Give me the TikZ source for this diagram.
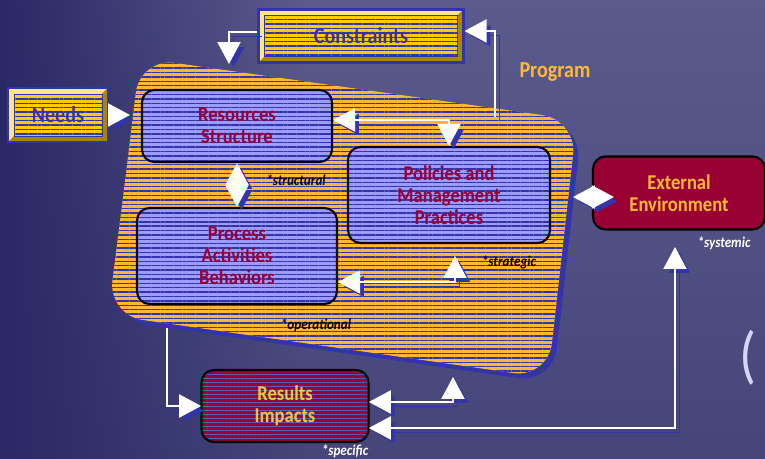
\documentclass[tikz,border=0pt]{standalone}
\usepackage{fontspec}
\setmainfont{Carlito}[FakeStretch=0.88]
\usetikzlibrary{arrows.meta,calc,positioning,patterns.meta,fadings}

\definecolor{bgtop}{HTML}{5A5A8C}
\definecolor{bgbot}{HTML}{45457A}
\definecolor{bgleft}{HTML}{2A2866}
\definecolor{stripeblue}{HTML}{3333AA}
\definecolor{progorange}{HTML}{FFB833}
\definecolor{lavender}{HTML}{9C9CFF}
\definecolor{crimson}{HTML}{990033}
\definecolor{gold}{HTML}{FFCC00}
\definecolor{goldlight}{HTML}{FFE680}
\definecolor{golddark}{HTML}{A88400}
\definecolor{resyellow}{HTML}{FFCC33}
\definecolor{parenlav}{HTML}{D4D4FF}

\tikzfading[name=fadeleft, left color=transparent!0, right color=transparent!100]

\begin{document}
\begin{tikzpicture}[x=0.02cm, y=-0.02cm,
    stripes/.style={pattern={Lines[angle=0,distance=2.5pt,line width=0.8pt]},
      pattern color=stripeblue},
    pbox/.style={draw=black, line width=1.2pt, rounded corners=0.25cm,
      preaction={fill=lavender}, stripes, text=crimson, align=center,
      font=\bfseries\fontsize{12}{12.5}\selectfont, inner sep=0pt},
    ebox/.style={draw=black, line width=1.2pt, rounded corners=0.25cm,
      fill=crimson, text=progorange, align=center,
      font=\bfseries\fontsize{12}{12.5}\selectfont, inner sep=0pt},
    rbox/.style={ebox, preaction={fill=crimson},
      pattern={Lines[angle=0,distance=2.3pt,line width=0.4pt]},
      pattern color=stripeblue!80!white, text=resyellow},
    ybox/.style={draw=stripeblue, line width=1.2pt, fill=gold, text=stripeblue,
      font=\bfseries\fontsize{13}{13}\selectfont, inner sep=0pt,
      path picture={
        \def\pb{path picture bounding box}
        \fill[goldlight] (\pb.north west) -- (\pb.north east)
          -- ([shift={(-0.12cm,-0.12cm)}]\pb.north east)
          -- ([shift={(0.12cm,-0.12cm)}]\pb.north west) -- cycle;
        \fill[goldlight] (\pb.north west) -- (\pb.south west)
          -- ([shift={(0.12cm,0.12cm)}]\pb.south west)
          -- ([shift={(0.12cm,-0.12cm)}]\pb.north west) -- cycle;
        \fill[golddark] (\pb.south west) -- (\pb.south east)
          -- ([shift={(-0.12cm,0.12cm)}]\pb.south east)
          -- ([shift={(0.12cm,0.12cm)}]\pb.south west) -- cycle;
        \fill[golddark] (\pb.north east) -- (\pb.south east)
          -- ([shift={(-0.12cm,0.12cm)}]\pb.south east)
          -- ([shift={(-0.12cm,-0.12cm)}]\pb.north east) -- cycle;
        \draw[stripeblue, line width=0.5pt, stripes]
          ([shift={(0.12cm,-0.12cm)}]\pb.north west)
          rectangle ([shift={(-0.12cm,0.12cm)}]\pb.south east);
      }},
    tag/.style={font=\bfseries\itshape\fontsize{8.5}{8.5}\selectfont, text=black, inner sep=1pt},
    wt/.tip={Triangle[length=0.44cm,width=0.46cm]},
    warrow/.style={draw=white, line width=1.2pt, -wt,
      preaction={draw=stripeblue, -wt, transform canvas={shift={(0.09cm,-0.09cm)}}}},
    warrowb/.style={draw=white, line width=1.2pt, wt-wt,
      preaction={draw=stripeblue, wt-wt, transform canvas={shift={(0.09cm,-0.09cm)}}}}]

  % background
  \useasboundingbox (0,0) rectangle (765,459);
  \shade[top color=bgtop, bottom color=bgbot] (0,0) rectangle (765,459);
  \fill[bgleft, path fading=fadeleft] (0,0) rectangle (300,459);

  % program area
  \path[preaction={fill=stripeblue, transform canvas={shift={(0.1cm,-0.1cm)}}},
    preaction={fill=progorange}, stripes, rounded corners=0.7cm]
    (124,190) -- (140,58) -- (577,120) -- (548,378) -- (108,315) -- cycle;
  \node[text=progorange, font=\bfseries\fontsize{13}{13}\selectfont] (Program) at (555,72) {Program};

  % boxes
  \node[ybox, minimum width=4.1cm, minimum height=1.06cm] (Constraints) at (361,36) {Constraints};
  \node[ybox, minimum width=2cm, minimum height=1.08cm] (Needs) at (58,115) {Needs};
  \node[pbox, minimum width=3.8cm, minimum height=1.44cm] (Resources) at (237,126) {Resources\\Structure};
  \node[pbox, minimum width=4.04cm, minimum height=1.92cm] (Policies) at (449,195) {Policies and\\Management\\Practices};
  \node[pbox, minimum width=4cm, minimum height=1.92cm] (Process) at (237,256) {Process\\Activities\\Behaviors};
  \node[ebox, minimum width=3.44cm, minimum height=1.46cm] (External) at (679,193) {External\\Environment};
  \node[rbox, minimum width=3.34cm, minimum height=1.44cm] (Results) at (285,406) {Results\\Impacts};

  % tags
  \node[tag] (structural) at (296,180) {*structural};
  \node[tag] (strategic) at (509,262) {*strategic};
  \node[tag] (operational) at (316,325) {*operational};
  \node[tag, text=white] (systemic) at (724,243) {*systemic};
  \node[tag, text=white] (specific) at (345,451) {*specific};
  \node[text=parenlav, font=\fontsize{36}{36}\selectfont] (paren) at (748,358) {(};

  % free ends
  \coordinate (blobtop) at (229,64);
  \coordinate (blobout) at (495,117);
  \coordinate (needsin) at (130,115);
  \coordinate (polin) at (455,256);
  \coordinate (blobedge) at (573,197);
  \coordinate (blobbase) at (167,328);
  \coordinate (blobfoot) at (453,377);
  \coordinate (extin) at (675,247);

  % connectors
  \draw[warrow] ([yshift=0.08cm]Constraints.west) -| (blobtop);
  \draw[warrow] (blobout) |- ([yshift=0.1cm]Constraints.east);
  \draw[warrow] (Needs.east) -- (needsin);
  \draw[warrowb] ([yshift=0.12cm]Resources.east) -| (Policies.north);
  \draw[warrowb] (Resources.south) -- (Process.north);
  \draw[warrowb] ([yshift=-0.52cm]Process.east) -| (polin);
  \draw[warrowb, shorten >=-0.44cm] (blobedge) -- (blobedge -| External.west);
  \draw[warrow] (blobbase) |- (Results.west);
  \draw[warrowb] ([yshift=0.08cm]Results.east) -| (blobfoot);
  \draw[warrowb] ([yshift=-0.44cm]Results.east) -| (extin);

\end{tikzpicture}
\end{document}
